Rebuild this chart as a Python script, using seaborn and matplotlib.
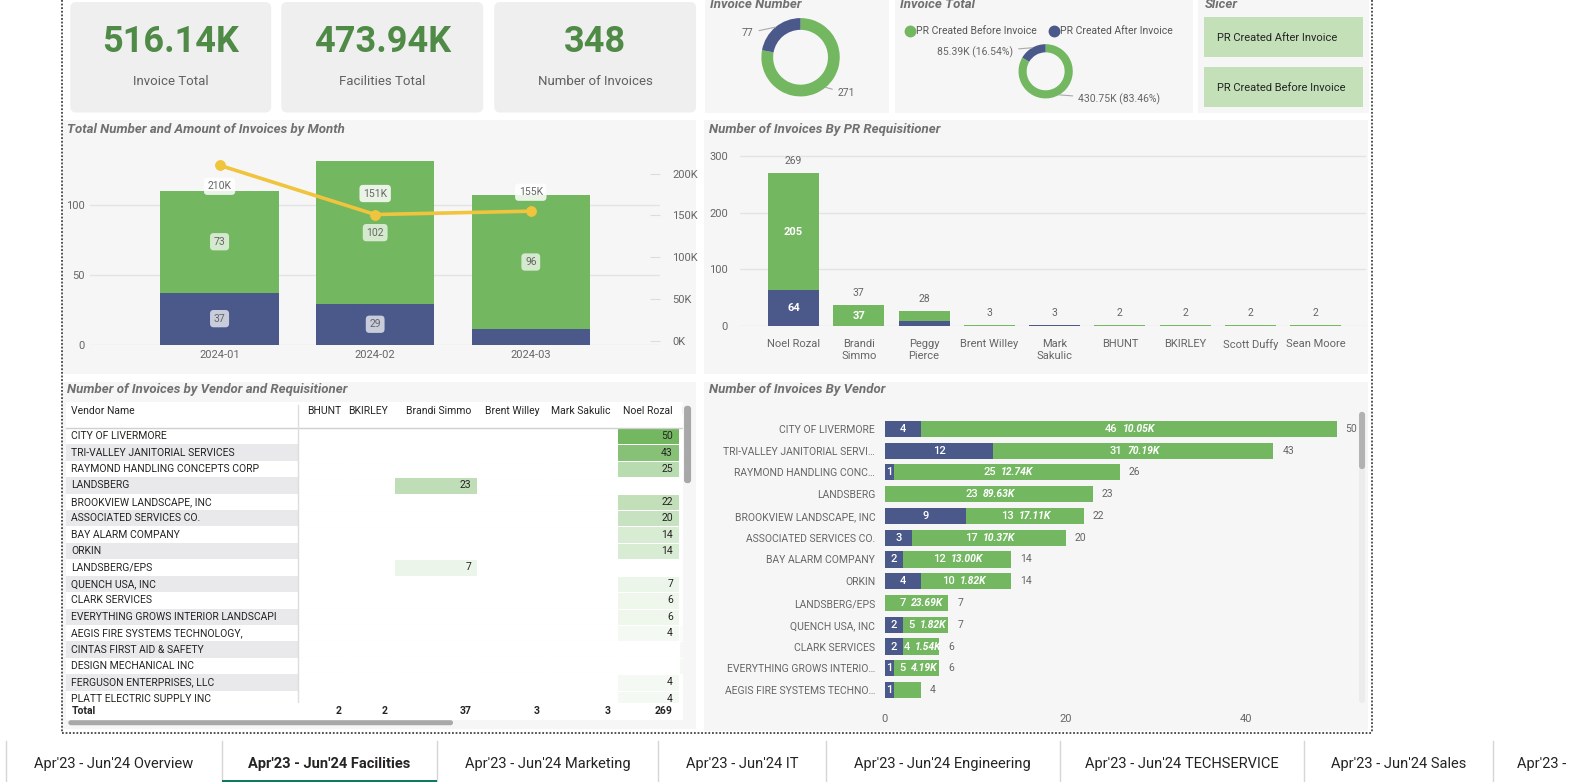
import numpy as np
import pandas as pd
import matplotlib
matplotlib.use('Agg')
import matplotlib.pyplot as plt
import seaborn as sns
from matplotlib.patches import Rectangle, FancyBboxPatch
from matplotlib.lines import Line2D
from matplotlib.transforms import Affine2D
from matplotlib.colors import LinearSegmentedColormap
from matplotlib.ticker import FuncFormatter

# ---------------- data ----------------
kpi_values = ['516.14K', '473.94K', '348']
kpi_labels = ['Invoice Total', 'Facilities Total', 'Number of Invoices']

pr_status = ['PR Created Before Invoice', 'PR Created After Invoice']
invoice_count = [271, 77]
invoice_amount = [430.75, 85.39]      # K
invoice_pct = [83.46, 16.54]

months = ['2024-01', '2024-02', '2024-03']
month_after = [37, 29, 11]
month_before = [73, 102, 96]
month_amount = [210, 151, 155]        # K

requisitioners = ['Noel Rozal', 'Brandi\nSimmo', 'Peggy\nPierce', 'Brent Willey', 'Mark\nSakulic',
                  'BHUNT', 'BKIRLEY', 'Scott Duffy', 'Sean Moore']
req_after = [64, 0, 10, 0, 2, 1, 0, 0, 0]
req_before = [205, 37, 18, 3, 1, 1, 2, 2, 2]

vendors = ['CITY OF LIVERMORE', 'TRI-VALLEY JANITORIAL SERVI…', 'RAYMOND HANDLING CONC…', 'LANDSBERG',
           'BROOKVIEW LANDSCAPE, INC', 'ASSOCIATED SERVICES CO.', 'BAY ALARM COMPANY', 'ORKIN',
           'LANDSBERG/EPS', 'QUENCH USA, INC', 'CLARK SERVICES', 'EVERYTHING GROWS INTERIO…',
           'AEGIS FIRE SYSTEMS TECHNO…']
vendor_after = [4, 12, 1, 0, 9, 3, 2, 4, 0, 2, 2, 1, 1]
vendor_before = [46, 31, 25, 23, 13, 17, 12, 10, 7, 5, 4, 5, 3]
vendor_before_amt = ['10.05K', '70.19K', '12.74K', '89.63K', '17.11K', '10.37K', '13.00K', '1.82K',
                     '23.69K', '1.82K', '1.54K', '4.19K', '']

table_vendors = ['CITY OF LIVERMORE', 'TRI-VALLEY JANITORIAL SERVICES', 'RAYMOND HANDLING CONCEPTS CORP',
                 'LANDSBERG', 'BROOKVIEW LANDSCAPE, INC', 'ASSOCIATED SERVICES CO.', 'BAY ALARM COMPANY',
                 'ORKIN', 'LANDSBERG/EPS', 'QUENCH USA, INC', 'CLARK SERVICES',
                 'EVERYTHING GROWS INTERIOR LANDSCAPI', 'AEGIS FIRE SYSTEMS TECHNOLOGY,',
                 'CINTAS FIRST AID & SAFETY', 'DESIGN MECHANICAL INC', 'FERGUSON ENTERPRISES, LLC',
                 'PLATT ELECTRIC SUPPLY INC']
nan = np.nan
tbl_bhunt = [nan] * 17
tbl_bkirley = [nan] * 17
tbl_brandi = [nan, nan, nan, 23, nan, nan, nan, nan, 7, nan, nan, nan, nan, nan, nan, nan, nan]
tbl_brent = [nan] * 17
tbl_mark = [nan] * 17
tbl_noel = [50, 43, 25, nan, 22, 20, 14, 14, nan, 7, 6, 6, 4, nan, nan, 4, 4]
tbl_peggy = [nan] * 12 + [2, 4, 4, nan, nan]
table_people = ['BHUNT', 'BKIRLEY', 'Brandi Simmo', 'Brent Willey', 'Mark Sakulic', 'Noel Rozal', 'Peggy Pierce']
table_totals = [2, 2, 37, 3, 3, 269, 28]

tabs = ["Apr'23 - Jun'24 Overview", "Apr'23 - Jun'24 Facilities", "Apr'23 - Jun'24 Marketing",
        "Apr'23 - Jun'24 IT", "Apr'23 - Jun'24 Engineering", "Apr'23 - Jun'24 TECHSERVICE",
        "Apr'23 - Jun'24 Sales", "Apr'23 -"]
active_tab = 1

# ---------------- style ----------------
green = '#73b761'
navy = '#4a588a'
yellow = '#f0c43c'
kpi_green = '#4f8a46'
txt = '#666666'
title_c = '#707070'
panel_c = '#f6f6f6'

plt.rcParams['font.family'] = ['Roboto', 'DejaVu Sans']

W, H = 1575, 782
S = 1575 / 1568     # layout measured on the 1568-wide view
fig = plt.figure(figsize=(W / 100, H / 100), dpi=100)
fig.patch.set_facecolor('white')
T = Affine2D().scale(S, -S).translate(0, H)   # pixel coords, origin top-left


def box(x0, y0, x1, y1, fc, rnd=0, z=-1):
    if rnd:
        p = FancyBboxPatch((x0, y0), x1 - x0, y1 - y0, boxstyle=f'round,pad=0,rounding_size={rnd}',
                           fc=fc, ec='none', transform=T, zorder=z)
    else:
        p = Rectangle((x0, y0), x1 - x0, y1 - y0, fc=fc, ec='none', transform=T, zorder=z)
    fig.add_artist(p)


def ftext(x, y, s, **kw):
    kw.setdefault('va', 'center')
    return fig.text(x, y, s, transform=T, **kw)


def add_ax(x0, y0, x1, y1):
    return fig.add_axes([x0 * S / W, 1 - y1 * S / H, (x1 - x0) * S / W, (y1 - y0) * S / H])


def clean(a):
    for s in a.spines.values():
        s.set_visible(False)
    a.set_xlabel('')
    a.set_ylabel('')


def title(x, y, s):
    ftext(x, y, s, fontsize=9.5, fontweight='bold', style='italic', color=title_c)


# ---------------- KPI cards ----------------
for (x0, x1), v, lab in zip([(70, 270), (280, 481), (492, 693)], kpi_values, kpi_labels):
    box(x0, 2, x1, 112, '#efefef', rnd=6)
    ftext((x0 + x1) / 2, 42, v, fontsize=26, fontweight='bold', color=kpi_green, ha='center')
    ftext((x0 + x1) / 2, 81, lab, fontsize=9.5, color='#606060', ha='center')

# ---------------- donuts ----------------
box(702, 0, 885, 112, panel_c)
box(891, 0, 1188, 112, panel_c)
title(707, 4, 'Invoice Number')
title(896, 4, 'Invoice Total')


def donut(rect, vals, lbl_after, lbl_before, pos_after, pos_before):
    a = add_ax(*rect)
    a.pie(vals, colors=[green, navy], startangle=90, counterclock=False,
          wedgeprops=dict(width=0.3, edgecolor='none'))
    a.set_xlim(-1, 1)
    a.set_ylim(-1, 1)
    f = np.array(vals) / np.sum(vals)
    ang_b = np.deg2rad(90 - 360 * f[0] / 2)
    ang_a = np.deg2rad(90 - 360 * (f[0] + f[1] / 2))
    lp = dict(arrowstyle='-', color='#aaaaaa', lw=0.8, shrinkA=2, shrinkB=0)
    a.annotate(lbl_after, (np.cos(ang_a), np.sin(ang_a)), xytext=pos_after, ha='right', va='center',
               fontsize=7.5, color=txt, arrowprops=lp, annotation_clip=False)
    a.annotate(lbl_before, (np.cos(ang_b), np.sin(ang_b)), xytext=pos_before, ha='left', va='center',
               fontsize=7.5, color=txt, arrowprops=lp, annotation_clip=False)


donut((758, 18, 836, 96), invoice_count, str(invoice_count[1]), str(invoice_count[0]),
      (-1.2, 0.62), (0.95, -0.92))
donut((1014, 44, 1068, 98), invoice_amount,
      f'{invoice_amount[1]:.2f}K ({invoice_pct[1]:.2f}%)', f'{invoice_amount[0]:.2f}K ({invoice_pct[0]:.2f}%)',
      (-1.2, 0.70), (1.2, -1.04))

for x, c, lab in [(906, green, pr_status[0]), (1049, navy, pr_status[1])]:
    fig.add_artist(Line2D([x], [31], marker='o', ms=7.5, color=c, transform=T, lw=0))
    ftext(x + 6, 31, lab, fontsize=7.5, color='#555555')

# ---------------- slicer ----------------
box(1193, 0, 1363, 112, panel_c)
title(1199, 4, 'Slicer')
for y0, lab in [(17, 'PR Created After Invoice'), (67, 'PR Created Before Invoice')]:
    box(1199, y0, 1357, y0 + 40, '#c3e0b9', z=-0.5)
    ftext(1212, y0 + 21, lab, fontsize=8, color='#252423')

# ---------------- combo chart ----------------
box(62, 119, 693, 372, panel_c)
title(67, 129, 'Total Number and Amount of Invoices by Month')
ax = add_ax(90, 150, 657, 343)
ax.set_facecolor('none')
month_total = [a + b for a, b in zip(month_after, month_before)]
sns.barplot(x=months, y=month_total, color=green, saturation=1, width=0.76, ax=ax, zorder=2)
sns.barplot(x=months, y=month_after, color=navy, saturation=1, width=0.76, ax=ax, zorder=2)
ax.set_xlim(-0.83, 2.83)
ax.set_ylim(0, 138.6)
ax.set_yticks([0, 50, 100])
ax.yaxis.grid(True, color='#e3e3e3', lw=1, zorder=0)
ax.set_axisbelow(True)
ax.tick_params(length=0, labelsize=8, labelcolor=txt, pad=4)
clean(ax)
lb = dict(boxstyle='round,pad=0.35,rounding_size=0.35', fc='white', alpha=0.7, ec='none')
for i, (a, b) in enumerate(zip(month_after, month_before)):
    if a >= 20:
        ax.text(i, a / 2, str(a), ha='center', va='center', fontsize=7.5, color=txt, bbox=lb, zorder=4)
    ax.text(i, a + b / 2, str(b), ha='center', va='center', fontsize=7.5, color=txt, bbox=lb, zorder=4)

ax2 = ax.twinx()
sns.lineplot(x=list(range(len(months))), y=month_amount, color=yellow, lw=2.6, marker='o', ms=7,
             mec=yellow, ax=ax2, zorder=5)
ax2.set_xlim(-0.83, 2.83)
ax2.set_ylim(-4.8, 227.5)
ax2.set_yticks([0, 50, 100, 150, 200])
ax2.yaxis.set_major_formatter(FuncFormatter(lambda v, p: f'{v:.0f}K'))
ax2.tick_params(axis='y', direction='in', length=7, color='#dddddd', labelsize=8, labelcolor=txt, pad=9)
clean(ax2)
for i, (v, off) in enumerate(zip(month_amount, [-21, 21, 19])):
    ax2.annotate(f'{v}K', (i, v), xytext=(0, off), textcoords='offset pixels', ha='center', va='center',
                 fontsize=7.5, color=txt,
                 bbox=dict(boxstyle='round,pad=0.35,rounding_size=0.35', fc='white', alpha=0.85, ec='none'))

# ---------------- PR requisitioner chart ----------------
box(701, 119, 1362, 372, panel_c)
title(706, 129, 'Number of Invoices By PR Requisitioner')
ax = add_ax(737, 150, 1360, 325)
ax.set_facecolor('none')
req_total = [a + b for a, b in zip(req_after, req_before)]
sns.barplot(x=requisitioners, y=req_total, color=green, saturation=1, width=0.78, ax=ax, zorder=2)
sns.barplot(x=requisitioners, y=req_after, color=navy, saturation=1, width=0.78, ax=ax, zorder=2)
ax.set_xlim(-0.815, 8.77)
ax.set_ylim(0, 308.6)
ax.set_yticks([0, 100, 200, 300])
ax.yaxis.grid(True, color='#e3e3e3', lw=1, zorder=0)
ax.set_axisbelow(True)
ax.tick_params(axis='y', length=0, labelsize=8, labelcolor=txt, pad=9)
ax.tick_params(axis='x', length=0, labelsize=8, labelcolor=txt, pad=9)
clean(ax)
for i, (a, b) in enumerate(zip(req_after, req_before)):
    ax.annotate(str(a + b), (i, a + b), xytext=(0, 12), textcoords='offset pixels', ha='center',
                va='center', fontsize=7.5, color=txt)
    if a >= 20:
        ax.text(i, a / 2, str(a), ha='center', va='center', fontsize=8, color='white', fontweight='bold')
    if b >= 20:
        ax.text(i, a + b / 2, str(b), ha='center', va='center', fontsize=8, color='white', fontweight='bold')

# ---------------- table ----------------
box(62, 380, 693, 726, panel_c)
title(67, 388, 'Number of Invoices by Vendor and Requisitioner')
tbl = pd.DataFrame(dict(zip(table_people, [tbl_bhunt, tbl_bkirley, tbl_brandi, tbl_brent,
                                           tbl_mark, tbl_noel, tbl_peggy])), index=table_vendors)
ax_t = add_ax(66, 400, 680, 717)
ax_t.set_xlim(66, 680)
ax_t.set_ylim(717, 400)
ax_t.set_xticks([])
ax_t.set_yticks([])
ax_t.set_facecolor('white')
clean(ax_t)
row_top, row_h = 426, 16.35
col_edges = [297, 346, 392, 475, 543, 614, 676, 740]
row_edges = row_top + row_h * np.arange(len(table_vendors) + 1)
for i in range(1, len(table_vendors), 2):
    ax_t.add_patch(Rectangle((66, row_edges[i]), 231, row_h, fc='#e9e9eb', ec='none', zorder=1))
for yb in row_edges[1:-1]:
    ax_t.plot([297, 680], [yb, yb], color='#f2f2f2', lw=0.8, zorder=1)
cmap = LinearSegmentedColormap.from_list('g', ['#ffffff', green])
ax_t.pcolormesh(col_edges, row_edges, np.ma.masked_invalid(tbl.to_numpy(dtype=float)), cmap=cmap,
                vmin=0, vmax=50, edgecolors='#ffffff', linewidth=0.5, zorder=2)
ax_t.text(71, 409, 'Vendor Name', fontsize=7.5, color='#252423', va='center')
visible = [j for j in range(len(table_people)) if col_edges[j + 1] <= 680]
for j in visible:
    ax_t.text(col_edges[j + 1] - 6, 409, table_people[j], fontsize=7.5, color='#252423', va='center',
              ha='right')
# the next column is scrolled off; only its first letter peeks in
ax_t.text(678, 409, table_people[-1][0], fontsize=7.5, color='#9a9a9a', va='center', ha='left',
          clip_on=True)
ax_t.plot([66, 680], [426, 426], color='#d0d0d0', lw=1, zorder=3)
ax_t.plot([297, 297], [403, 717], color='#dddddd', lw=1, zorder=3)
for i, name in enumerate(table_vendors):
    yc = row_edges[i] + row_h / 2
    ax_t.text(71, yc, name, fontsize=7.5, color='#252423', va='center', zorder=3)
    for j in visible:
        v = tbl.iloc[i, j]
        if not np.isnan(v):
            ax_t.text(col_edges[j + 1] - 6, yc, f'{v:.0f}', fontsize=7.5, color='#252423', va='center',
                      ha='right', zorder=3)
ax_t.add_patch(Rectangle((66, 700), 614, 17, fc='white', ec='none', zorder=5))
ax_t.text(71, 708, 'Total', fontsize=7.5, fontweight='bold', color='#252423', va='center', zorder=6)
for j in visible:
    ax_t.text(col_edges[j + 1] - 6, 708, str(table_totals[j]), fontsize=7.5, fontweight='bold',
              color='#252423', va='center', ha='right', zorder=6)
box(681, 404, 688, 481, '#a8a8a8', rnd=3, z=5)
box(68, 717, 451, 722, '#a8a8a8', rnd=2.5, z=5)

# ---------------- vendor chart ----------------
box(701, 380, 1362, 728, panel_c)
title(706, 388, 'Number of Invoices By Vendor')
ax = add_ax(881, 415, 1345, 700)
ax.set_facecolor('none')
vendor_total = [a + b for a, b in zip(vendor_after, vendor_before)]
sns.barplot(x=vendor_total, y=vendors, orient='h', color=green, saturation=1, width=0.74, ax=ax)
sns.barplot(x=vendor_after, y=vendors, orient='h', color=navy, saturation=1, width=0.74, ax=ax)
ax.set_xlim(0, 51.6)
ax.set_ylim(12.6, -0.554)
ax.set_xticks([0, 20, 40])
ax.tick_params(axis='y', length=0, labelsize=7.5, labelcolor=txt, pad=7)
ax.tick_params(axis='x', length=0, labelsize=8, labelcolor=txt, pad=8)
clean(ax)
for i, (a, b, amt) in enumerate(zip(vendor_after, vendor_before, vendor_before_amt)):
    if a > 0:
        ax.text(a / 2, i, str(a), ha='center', va='center', fontsize=8, color='white', fontweight='medium')
    if amt:
        cx = a + b / 2
        ax.annotate(str(b), (cx, i), xytext=(-11, 0), textcoords='offset pixels', ha='right', va='center',
                    fontsize=8, color='white', fontweight='medium')
        ax.annotate(amt, (cx, i), xytext=(-6, 0), textcoords='offset pixels', ha='left', va='center',
                    fontsize=7.5, color='white', fontweight='bold', style='italic')
    ax.annotate(str(a + b), (a + b, i), xytext=(9, 0), textcoords='offset pixels', ha='left',
                va='center', fontsize=7.5, color=txt)
box(1353, 410, 1359, 700, '#ececec', rnd=3, z=4)
box(1353, 410, 1359, 467, '#b2b2b2', rnd=3, z=5)

# ---------------- dotted canvas border ----------------
dot = dict(color='#444444', lw=1.3, ls=(0, (1, 1)), transform=T)
fig.add_artist(Line2D([62, 62], [0, 730], **dot))
fig.add_artist(Line2D([1366, 1366], [0, 730], **dot))
fig.add_artist(Line2D([62, 1366], [730, 730], **dot))

# ---------------- page tabs ----------------
tab_edges = [6, 221, 435, 655, 822, 1055, 1298, 1486]
for x in tab_edges:
    fig.add_artist(Line2D([x, x], [738, 782], color='#d6d6d6', lw=1, transform=T))
for k, lab in enumerate(tabs):
    if k < len(tab_edges) - 1:
        xc = (tab_edges[k] + tab_edges[k + 1]) / 2
        ftext(xc, 761, lab, fontsize=10.5, color='#252423', ha='center',
              fontweight='bold' if k == active_tab else 'normal')
    else:
        ftext(1510, 761, lab, fontsize=10.5, color='#252423', ha='left')
box(tab_edges[active_tab], 777, tab_edges[active_tab + 1], 780, '#117865', z=5)

fig.savefig('out.png', dpi=100)
